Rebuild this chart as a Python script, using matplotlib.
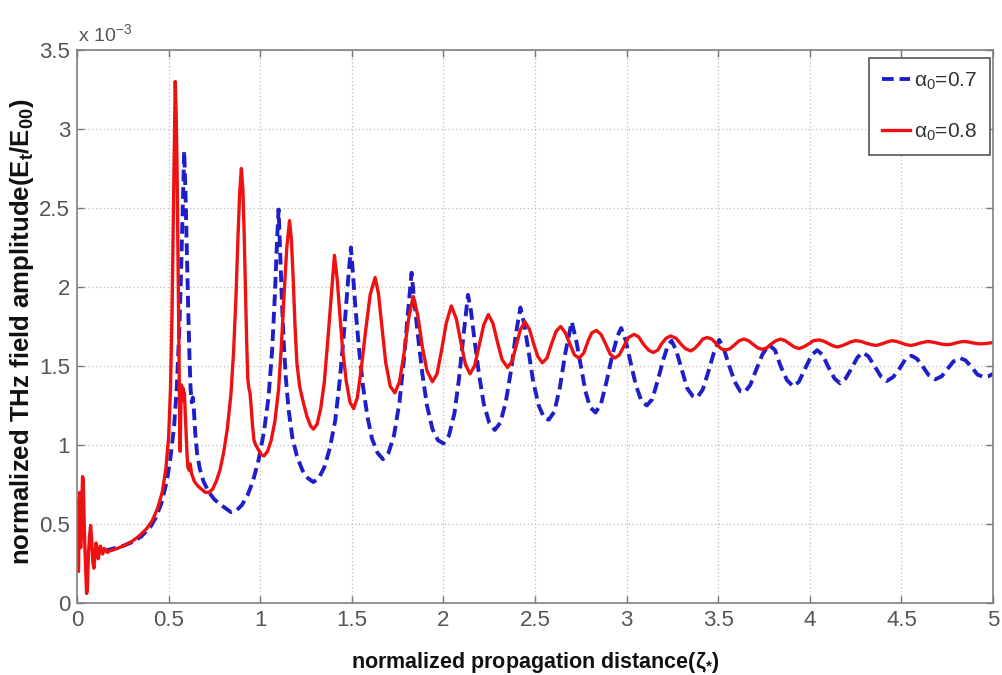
import matplotlib
matplotlib.use("Agg")
import matplotlib.pyplot as plt
from matplotlib.ticker import FuncFormatter

plt.rcParams['font.family'] = ['Liberation Sans', 'DejaVu Sans']
plt.rcParams['mathtext.fontset'] = 'custom'
plt.rcParams['mathtext.rm'] = 'Liberation Sans'
plt.rcParams['mathtext.default'] = 'regular'

# normalized propagation distance and THz field amplitude (in units of 1e-3)
zeta_07 = [0.15, 0.20, 0.25, 0.30, 0.35, 0.40, 0.43, 0.46, 0.49, 0.51, 0.53, 0.545, 0.558, 0.568, 0.577, 0.585,
           0.592, 0.600, 0.607, 0.614, 0.620, 0.626, 0.632, 0.638, 0.645, 0.655, 0.67, 0.69, 0.72, 0.75, 0.78, 0.81,
           0.84, 0.87, 0.90, 0.93, 0.96, 0.99, 1.02, 1.045, 1.065, 1.08, 1.092, 1.10,
           1.108, 1.117, 1.128, 1.14, 1.155, 1.175, 1.20, 1.23, 1.26, 1.29, 1.32, 1.35, 1.38, 1.41, 1.435, 1.46,
           1.48, 1.495,
           1.505, 1.52, 1.54, 1.56, 1.585, 1.61, 1.64, 1.67, 1.70, 1.73, 1.76, 1.785, 1.805, 1.826,
           1.84, 1.86, 1.885, 1.91, 1.94, 1.97, 2.00, 2.03, 2.06, 2.085, 2.11, 2.134,
           2.15, 2.17, 2.195, 2.22, 2.25, 2.28, 2.31, 2.34, 2.37, 2.395, 2.42,
           2.44, 2.465, 2.49, 2.52, 2.55, 2.575, 2.605, 2.635, 2.665, 2.70,
           2.725, 2.75, 2.775, 2.80, 2.83, 2.86, 2.89, 2.92, 2.95, 2.97,
           2.995, 3.02, 3.05, 3.08, 3.11, 3.14, 3.17, 3.20, 3.225, 3.245,
           3.27, 3.30, 3.33, 3.36, 3.385, 3.415, 3.445, 3.475, 3.505,
           3.53, 3.56, 3.59, 3.62, 3.645, 3.675, 3.705, 3.74, 3.775,
           3.81, 3.84, 3.875, 3.91, 3.94, 3.975, 4.01, 4.04, 4.07, 4.10, 4.135, 4.165,
           4.195, 4.23, 4.26, 4.29, 4.32, 4.355, 4.39, 4.42, 4.455, 4.49, 4.52, 4.555,
           4.585, 4.62, 4.65, 4.685, 4.72, 4.75, 4.785, 4.82, 4.85, 4.885, 4.915, 4.95, 4.975, 5.0]
amp_07 = [0.33, 0.345, 0.36, 0.385, 0.42, 0.48, 0.54, 0.63, 0.77, 0.92, 1.12, 1.37, 1.72, 2.10, 2.50, 2.86,
          2.60, 2.20, 1.85, 1.55, 1.35, 1.27, 1.30, 1.22, 1.08, 0.95, 0.85, 0.77, 0.70, 0.655, 0.625, 0.60,
          0.575, 0.585, 0.62, 0.68, 0.77, 0.90, 1.08, 1.30, 1.60, 1.95, 2.30, 2.49,
          2.25, 1.95, 1.65, 1.42, 1.22, 1.05, 0.93, 0.84, 0.79, 0.765, 0.79, 0.86, 0.98, 1.16, 1.42, 1.75,
          2.05, 2.25,
          2.10, 1.86, 1.60, 1.38, 1.18, 1.04, 0.95, 0.91, 0.95, 1.06, 1.27, 1.55, 1.82, 2.09,
          1.92, 1.70, 1.45, 1.25, 1.10, 1.03, 1.01, 1.06, 1.20, 1.42, 1.70, 1.95,
          1.85, 1.66, 1.44, 1.26, 1.14, 1.095, 1.14, 1.27, 1.48, 1.70, 1.87,
          1.77, 1.59, 1.40, 1.25, 1.17, 1.16, 1.21, 1.36, 1.58, 1.78,
          1.66, 1.50, 1.34, 1.24, 1.205, 1.26, 1.40, 1.56, 1.69, 1.74,
          1.66, 1.53, 1.38, 1.28, 1.25, 1.29, 1.41, 1.54, 1.63, 1.66,
          1.60, 1.48, 1.36, 1.31, 1.30, 1.35, 1.46, 1.58, 1.665,
          1.61, 1.50, 1.40, 1.34, 1.335, 1.38, 1.47, 1.57, 1.635,
          1.60, 1.50, 1.41, 1.37, 1.40, 1.485, 1.57, 1.60, 1.57, 1.495, 1.42, 1.39,
          1.42, 1.49, 1.555, 1.585, 1.56, 1.495, 1.43, 1.405, 1.43, 1.485, 1.54, 1.565,
          1.545, 1.49, 1.44, 1.415, 1.435, 1.48, 1.53, 1.55, 1.535, 1.49, 1.445, 1.43, 1.435, 1.45]

zeta_08 = [0.0, 0.004, 0.008, 0.012, 0.016, 0.020, 0.025, 0.030, 0.034, 0.040, 0.046, 0.052, 0.056, 0.062,
           0.068, 0.074, 0.080, 0.086, 0.092, 0.098, 0.104, 0.110, 0.116, 0.122, 0.128, 0.134, 0.140, 0.148,
           0.156, 0.165, 0.18, 0.22, 0.26, 0.30, 0.34, 0.38, 0.41, 0.44, 0.465, 0.485, 0.50, 0.51, 0.518,
           0.525, 0.531, 0.536,
           0.541, 0.546, 0.551, 0.556, 0.560, 0.563, 0.566, 0.570, 0.574, 0.578, 0.582, 0.586, 0.590, 0.595,
           0.600, 0.605, 0.612, 0.618, 0.625, 0.64, 0.66, 0.68, 0.70, 0.72, 0.74, 0.76, 0.78, 0.80, 0.82,
           0.84, 0.855, 0.868, 0.878, 0.888, 0.897,
           0.905, 0.912, 0.919, 0.926, 0.932, 0.938, 0.944, 0.950, 0.958, 0.966, 0.975, 0.985, 0.995, 1.005,
           1.02, 1.04, 1.06, 1.08, 1.10, 1.115, 1.13, 1.145, 1.16,
           1.17, 1.18, 1.19, 1.20, 1.215, 1.235, 1.255, 1.275, 1.29, 1.31, 1.33, 1.35, 1.37, 1.39, 1.405,
           1.42, 1.435, 1.45, 1.47, 1.49, 1.51, 1.53, 1.55, 1.575, 1.60, 1.627,
           1.645, 1.665, 1.685, 1.71, 1.735, 1.76, 1.785, 1.81, 1.835,
           1.86, 1.885, 1.91, 1.94, 1.965, 1.99, 2.015, 2.043,
           2.07, 2.095, 2.12, 2.145, 2.17, 2.195, 2.22, 2.245,
           2.27, 2.295, 2.32, 2.35, 2.375, 2.40, 2.42, 2.445,
           2.47, 2.495, 2.515, 2.54, 2.565, 2.59, 2.615, 2.64,
           2.665, 2.69, 2.715, 2.74, 2.765, 2.79, 2.81, 2.835,
           2.86, 2.885, 2.91, 2.935, 2.96, 2.985, 3.01, 3.04,
           3.065, 3.09, 3.12, 3.145, 3.17, 3.19, 3.215, 3.24,
           3.27, 3.295, 3.32, 3.35, 3.37, 3.395, 3.415, 3.44,
           3.465, 3.49, 3.515, 3.54, 3.565, 3.59, 3.615, 3.64,
           3.665, 3.69, 3.715, 3.74, 3.765, 3.79, 3.815, 3.84,
           3.865, 3.89, 3.915, 3.94, 3.965, 3.995, 4.02, 4.05,
           4.075, 4.10, 4.125, 4.15, 4.175, 4.20, 4.225, 4.25,
           4.28, 4.305, 4.335, 4.36, 4.38, 4.405, 4.43, 4.45,
           4.475, 4.50, 4.525, 4.55, 4.575, 4.595, 4.62, 4.64,
           4.665, 4.695, 4.72, 4.75, 4.775, 4.795, 4.82, 4.84,
           4.865, 4.885, 4.91, 4.93, 4.96, 5.0]
amp_08 = [0.65, 0.25, 0.20, 0.62, 0.70, 0.35, 0.55, 0.80, 0.78, 0.45, 0.25, 0.06, 0.08, 0.30,
          0.42, 0.49, 0.40, 0.26, 0.22, 0.30, 0.38, 0.34, 0.28, 0.32, 0.36, 0.33, 0.31, 0.345,
          0.335, 0.32, 0.33, 0.345, 0.365, 0.39, 0.425, 0.47, 0.52, 0.60, 0.70, 0.85, 1.05, 1.35, 1.80,
          2.40, 2.95, 3.30,
          3.10, 2.75, 2.20, 1.65, 1.20, 0.96, 1.20, 1.38, 1.30, 1.36, 1.28, 1.33, 1.22, 1.08,
          0.95, 0.86, 0.84, 0.88, 0.82, 0.77, 0.74, 0.72, 0.70, 0.70, 0.72, 0.77, 0.84, 0.95, 1.10,
          1.32, 1.60, 1.95, 2.30, 2.60, 2.75,
          2.62, 2.35, 2.00, 1.65, 1.42, 1.36, 1.33, 1.25, 1.12, 1.03, 1.00, 0.98, 0.96, 0.94,
          0.93, 0.96, 1.03, 1.15, 1.35, 1.62, 1.95, 2.25, 2.42,
          2.30, 2.05, 1.75, 1.52, 1.37, 1.27, 1.18, 1.12, 1.10, 1.13, 1.23, 1.40, 1.68, 1.98, 2.20,
          2.05, 1.82, 1.60, 1.40, 1.27, 1.23, 1.30, 1.47, 1.72, 1.95, 2.06,
          1.96, 1.74, 1.52, 1.37, 1.33, 1.40, 1.58, 1.80, 1.94,
          1.82, 1.62, 1.47, 1.40, 1.45, 1.60, 1.77, 1.88,
          1.80, 1.65, 1.51, 1.45, 1.50, 1.63, 1.76, 1.825,
          1.77, 1.65, 1.54, 1.49, 1.53, 1.64, 1.73, 1.78,
          1.73, 1.63, 1.56, 1.52, 1.55, 1.64, 1.72, 1.75,
          1.71, 1.64, 1.57, 1.55, 1.58, 1.66, 1.71, 1.725,
          1.70, 1.64, 1.575, 1.55, 1.57, 1.625, 1.68, 1.70,
          1.685, 1.64, 1.60, 1.585, 1.60, 1.64, 1.675, 1.69,
          1.675, 1.64, 1.61, 1.595, 1.61, 1.64, 1.67, 1.68,
          1.67, 1.64, 1.61, 1.60, 1.61, 1.635, 1.66, 1.67,
          1.66, 1.637, 1.615, 1.605, 1.615, 1.64, 1.66, 1.67,
          1.66, 1.64, 1.62, 1.61, 1.62, 1.64, 1.66, 1.665,
          1.657, 1.643, 1.628, 1.62, 1.628, 1.64, 1.653, 1.66,
          1.655, 1.645, 1.635, 1.63, 1.635, 1.645, 1.655, 1.66,
          1.655, 1.645, 1.635, 1.63, 1.635, 1.643, 1.65, 1.655,
          1.652, 1.645, 1.638, 1.635, 1.638, 1.645, 1.652, 1.655,
          1.652, 1.647, 1.642, 1.64, 1.642, 1.648]

series_labels = ['α$_0$=0.7', 'α$_0$=0.8']
x_ticks = [0, 0.5, 1, 1.5, 2, 2.5, 3, 3.5, 4, 4.5, 5]
y_ticks = [0, 0.5, 1, 1.5, 2, 2.5, 3, 3.5]

scale = 1e-3
fig = plt.figure(figsize=(10.03, 6.75), dpi=100)
ax = fig.add_axes([0.0768, 0.1067, 0.9133, 0.8193])

ax.plot(zeta_07, [v * scale for v in amp_07], color='#1f1fc8', lw=2.8,
        linestyle=(0, (3.0, 1.5)), label=series_labels[0])
ax.plot(zeta_08, [v * scale for v in amp_08], color='#ee1111', lw=2.4,
        linestyle='-', label=series_labels[1])

ax.set_xlim(0, 5)
ax.set_ylim(0, 3.5 * scale)
ax.set_xticks(x_ticks)
ax.set_yticks([t * scale for t in y_ticks])
ax.xaxis.set_major_formatter(FuncFormatter(lambda v, p: f'{v:g}'))
ax.yaxis.set_major_formatter(FuncFormatter(lambda v, p: f'{v / scale:g}'))

gray = '#555555'
ax.tick_params(which='both', direction='in', length=5, width=1, color='#777777',
               labelcolor=gray, labelsize=16, top=True, right=True, pad=5)
for sp in ax.spines.values():
    sp.set_color('#808080')
    sp.set_linewidth(1.2)

ax.grid(True, linestyle=(0, (1, 2)), color='#bdbdbd', lw=0.9)
ax.set_axisbelow(True)

ax.text(0.001, 1.008, 'x 10$^{-3}$', transform=ax.transAxes, fontsize=14,
        color=gray, ha='left', va='bottom')

ax.set_xlabel('normalized propagation distance(ζ$_{*}$)', fontsize=15.5,
              fontweight='bold', color='#111111', labelpad=14)
ax.set_ylabel('normalized THz field amplitude(E$_{t}$/E$_{00}$)', fontsize=18.5,
              fontweight='bold', color='#111111')
ax.yaxis.set_label_coords(-0.045, 0.49)

leg = ax.legend(loc='upper right', bbox_to_anchor=(0.9965, 0.985), fontsize=15,
                handlelength=1.35, handletextpad=0.2, labelspacing=1.4,
                borderpad=0.6, borderaxespad=0.0, fancybox=False, framealpha=1)
leg.get_frame().set_edgecolor('#555555')
leg.get_frame().set_linewidth(1.2)
for t in leg.get_texts():
    t.set_color('#333333')

fig.savefig('out.png', dpi=100, facecolor='white')
